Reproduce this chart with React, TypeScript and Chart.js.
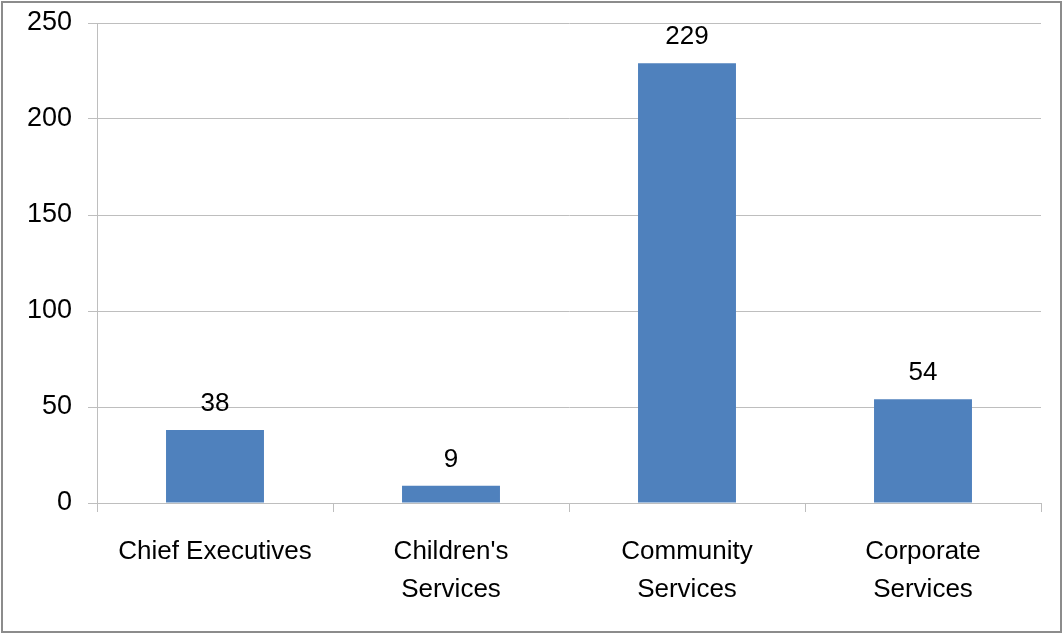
import React, { useEffect, useRef } from "react";
import { Chart, registerables } from "chart.js";

Chart.register(...registerables);

const categories: (string | string[])[] = [
  "Chief Executives",
  ["Children's", "Services"],
  ["Community", "Services"],
  ["Corporate", "Services"],
];
const values: number[] = [38, 9, 229, 54];
const yTicks: number[] = [0, 50, 100, 150, 200, 250];

const FONT = "'Liberation Sans', Arial, sans-serif";
const GRID = "#BEBEBE";

const dataLabels = {
  id: "dataLabels",
  afterDatasetsDraw(chart: any) {
    const ctx = chart.ctx;
    const meta = chart.getDatasetMeta(0);
    ctx.save();
    ctx.font = `26px ${FONT}`;
    ctx.fillStyle = "#000";
    ctx.textAlign = "center";
    ctx.textBaseline = "alphabetic";
    meta.data.forEach((el: any, i: number) => {
      ctx.fillText(String(values[i]), el.x, el.y - 19);
    });
    ctx.restore();
  },
};

export default function App() {
  const ref = useRef<HTMLCanvasElement>(null);
  useEffect(() => {
    const chart = new Chart(ref.current!, {
      type: "bar",
      data: {
        labels: categories,
        datasets: [
          {
            data: values,
            backgroundColor: "#4F81BD",
            barPercentage: 1,
            categoryPercentage: 0.415,
          },
        ],
      },
      options: {
        animation: false,
        responsive: false,
        maintainAspectRatio: false,
        layout: { padding: { left: 0, right: 22, top: 23, bottom: 0 } },
        plugins: { legend: { display: false }, tooltip: { enabled: false } },
        scales: {
          x: {
            grid: {
              offset: true,
              drawOnChartArea: false,
              drawTicks: true,
              tickLength: 9,
              color: GRID,
            },
            border: { display: true, color: GRID },
            ticks: {
              color: "#000",
              font: { family: FONT, size: 26, lineHeight: 1.46 },
              padding: 21,
              maxRotation: 0,
              autoSkip: false,
            },
            afterFit: (s: any) => {
              s.height = 132;
              s.paddingLeft = 0;
              s.paddingRight = 0;
            },
          },
          y: {
            min: 0,
            max: 250,
            afterBuildTicks: (s: any) => {
              s.ticks = yTicks.map((v) => ({ value: v }));
            },
            grid: { color: GRID, tickLength: 9 },
            border: { display: true, color: GRID },
            ticks: {
              color: "#000",
              font: { family: FONT, size: 27 },
              padding: 16,
            },
            afterFit: (s: any) => {
              s.width = 97;
              s.paddingTop = 0;
              s.paddingBottom = 0;
            },
          },
        },
      },
      plugins: [dataLabels],
    });
    return () => chart.destroy();
  }, []);
  return (
    <div style={{ position: "fixed", left: 0, top: 0, width: 1063, height: 635, background: "#fff" }}>
      <div
        style={{
          position: "absolute",
          left: 1,
          top: 1,
          width: 1061,
          height: 632,
          border: "2px solid #8C8C8C",
          boxSizing: "border-box",
        }}
      />
      <canvas ref={ref} width={1063} height={635} style={{ position: "absolute", left: 0, top: 0 }} />
    </div>
  );
}
